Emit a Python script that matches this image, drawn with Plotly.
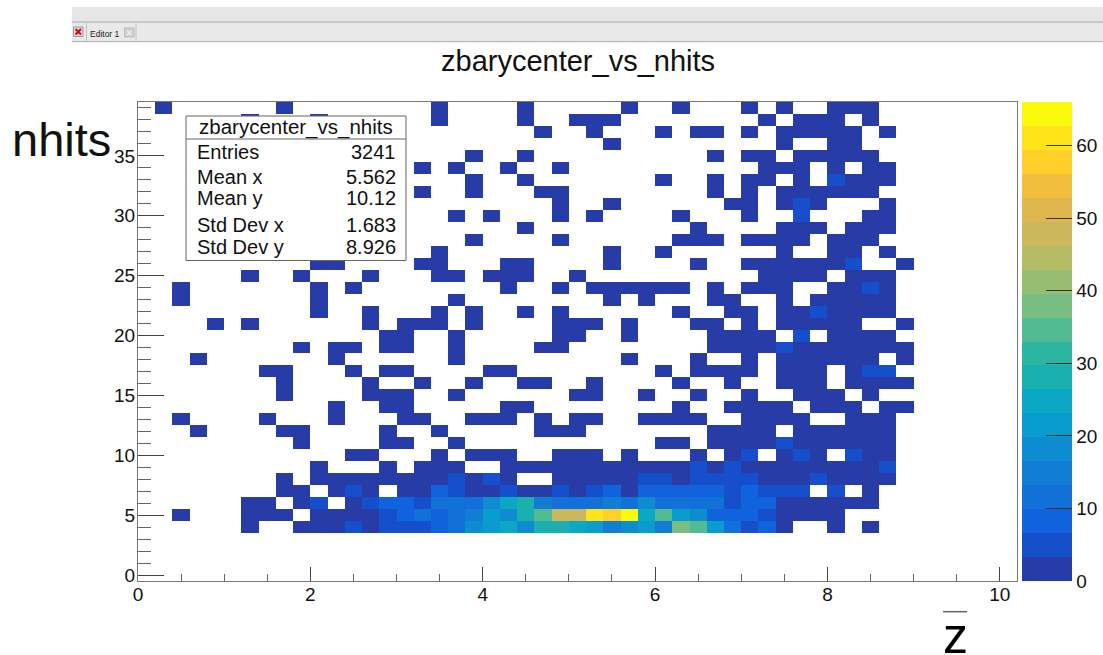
import plotly.graph_objects as go

W, H = 1103, 655
L, R, T, B = 138, 1017, 102, 581

# ---- data: occupied bins (low counts) per nhits row, bin index along x
BIN_WIDTH = 0.2
N_X_BINS = 51
N_Y_BINS = 40
LOW = 2
MID = 5

row_39 = [1, 8, 17, 22, 28, 31, 35, 37, 40, 41, 42]
row_38 = [6, 10, 17, 22, 25, 26, 27, 36, 38, 39, 40, 42]
row_37 = [23, 26, 30, 32, 33, 35, 37, 38, 39, 40, 41, 43]
row_36 = [27, 37, 40, 41]
row_35 = [19, 22, 33, 35, 36, 38, 39, 40, 41, 42]
row_34 = [16, 18, 21, 24, 36, 37, 38, 40, 42, 43]
row_33 = [19, 22, 30, 33, 35, 36, 38, 41, 42, 43]
row_32 = [16, 19, 23, 24, 33, 35, 37, 38, 39, 40, 41, 42]
row_31 = [24, 27, 34, 35, 37, 39, 43]
row_30 = [18, 20, 24, 26, 31, 35, 42, 43]
row_29 = [22, 32, 37, 38, 39, 41, 42, 43]
row_28 = [19, 24, 31, 32, 33, 35, 36, 37, 38, 40, 41, 42]
row_27 = [17, 27, 30, 37, 40, 41, 43]
row_26 = [10, 11, 16, 17, 21, 22, 27, 32, 35, 36, 37, 38, 39, 40, 44]
row_25 = [6, 9, 13, 17, 18, 20, 21, 22, 25, 36, 37, 38, 39, 41, 42, 43]
row_24 = [2, 10, 12, 21, 24, 26, 27, 28, 29, 30, 31, 33, 35, 36, 37, 40, 41, 43]
row_23 = [2, 10, 18, 27, 29, 33, 34, 37, 39, 40, 41, 42, 43]
row_22 = [10, 13, 17, 19, 22, 24, 31, 34, 35, 37, 38, 40, 41, 42, 43]
row_21 = [4, 6, 13, 15, 16, 17, 19, 24, 25, 26, 28, 32, 33, 35, 37, 38, 39, 40, 41, 44]
row_20 = [14, 15, 18, 24, 25, 28, 33, 34, 35, 36, 40, 41, 42, 43]
row_19 = [9, 11, 12, 14, 15, 18, 23, 24, 33, 34, 35, 36, 38, 39, 40, 41, 42, 43, 44]
row_18 = [3, 11, 18, 28, 32, 35, 37, 38, 39, 40, 41, 42, 44]
row_17 = [7, 8, 12, 14, 15, 20, 21, 30, 32, 33, 34, 35, 37, 38, 39, 41]
row_16 = [8, 13, 16, 19, 22, 23, 26, 31, 34, 37, 38, 39, 41, 42, 43, 44]
row_15 = [8, 13, 14, 15, 18, 25, 26, 29, 32, 35, 38, 39, 40, 42]
row_14 = [11, 14, 15, 21, 22, 31, 34, 35, 36, 37, 39, 40, 41, 43, 44]
row_13 = [2, 7, 11, 15, 16, 19, 20, 21, 23, 25, 26, 29, 30, 31, 32, 35, 36, 37, 38, 41, 42, 43]
row_12 = [3, 8, 9, 14, 17, 23, 24, 25, 33, 34, 35, 36, 38, 39, 40, 41, 42, 43]
row_11 = [9, 14, 15, 18, 30, 31, 33, 34, 35, 36, 38, 39, 40, 41, 42, 43]
row_10 = [12, 13, 17, 19, 20, 21, 24, 25, 26, 28, 32, 34, 37, 39, 42, 43]
row_9 = [10, 14, 16, 17, 18, 21, 22, 23, 24, 25, 26, 27, 28, 29, 30, 31, 33, 35, 36, 37, 38, 39, 40, 41, 42]

# cells of the sparse rows that are one colour step higher: (row, bin)
mid_cells = [(33, 40), (31, 38), (30, 38), (26, 41), (24, 42), (22, 39), (20, 38), (19, 37),
             (17, 42), (17, 43), (11, 37), (10, 35), (10, 38), (10, 41), (9, 32), (9, 34), (9, 43)]

# dense rows, full list of bin contents starting at bin 0
row_8 = [0, 0, 0, 0, 0, 0, 0, 0, 2, 0, 2, 2, 2, 2, 2, 2, 2, 2, 5, 2, 5, 2, 0, 0, 2, 2, 2, 2, 2,
         5, 5, 2, 5, 5, 5, 5, 2, 2, 2, 5, 2, 2, 2, 2, 0]
row_7 = [0, 0, 0, 0, 0, 0, 0, 0, 2, 2, 0, 2, 5, 2, 0, 2, 2, 8, 5, 2, 2, 5, 2, 2, 5, 2, 5, 8, 2,
         8, 8, 8, 8, 8, 5, 8, 5, 5, 5, 0, 5, 0, 2, 0, 0]
row_6 = [0, 0, 0, 0, 0, 0, 2, 2, 0, 2, 5, 0, 2, 5, 8, 8, 5, 12, 12, 12, 18, 25, 28, 15, 12, 12,
         12, 15, 12, 18, 12, 12, 12, 12, 5, 8, 8, 2, 2, 2, 2, 2, 2, 0, 0]
row_5 = [0, 0, 2, 0, 0, 0, 2, 2, 2, 0, 2, 2, 2, 2, 5, 8, 12, 8, 12, 15, 22, 18, 28, 35, 48, 48,
         61, 58, 65, 25, 35, 22, 18, 8, 8, 8, 5, 2, 2, 2, 2, 0, 0, 0, 0]
row_4 = [0, 0, 0, 0, 0, 0, 2, 0, 0, 2, 2, 2, 5, 2, 5, 5, 5, 8, 12, 18, 22, 25, 18, 28, 28, 25,
         22, 15, 18, 22, 15, 38, 35, 22, 12, 5, 8, 2, 0, 0, 2, 0, 2, 0, 0]

sparse_rows = {39: row_39, 38: row_38, 37: row_37, 36: row_36, 35: row_35, 34: row_34, 33: row_33,
               32: row_32, 31: row_31, 30: row_30, 29: row_29, 28: row_28, 27: row_27, 26: row_26,
               25: row_25, 24: row_24, 23: row_23, 22: row_22, 21: row_21, 20: row_20, 19: row_19,
               18: row_18, 17: row_17, 16: row_16, 15: row_15, 14: row_14, 13: row_13, 12: row_12,
               11: row_11, 10: row_10, 9: row_9}
dense_rows = {8: row_8, 7: row_7, 6: row_6, 5: row_5, 4: row_4}

# colour palette, 20 steps from the colour bar, bottom to top
palette = ["#283ca8", "#164fcb", "#1063dd", "#1270d9", "#127dd5", "#0d8dcf", "#089dce", "#0aa8c4",
           "#1bb0b0", "#2cb5a0", "#52bb92", "#78be82", "#96be72", "#b4bc66", "#cbb85c", "#deb74e",
           "#f2bf3c", "#ffcf2a", "#fee418", "#fcfa0c"]
Z_MAX = 66

stats_title = "zbarycenter_vs_nhits"
stats_names = ["Entries", "Mean x", "Mean y", "Std Dev x", "Std Dev y"]
stats_values = ["3241", "5.562", "10.12", "1.683", "8.926"]
stats_y_px = [152, 177, 198, 225, 247]

# ---- matrix
z = [[None] * N_X_BINS for _ in range(N_Y_BINS)]
for r, bins in sparse_rows.items():
    for b in bins:
        z[r][b] = LOW
for r, b in mid_cells:
    z[r][b] = MID
for r, vals in dense_rows.items():
    for b, v in enumerate(vals):
        if v:
            z[r][b] = v

colorscale = []
for i, c in enumerate(palette):
    colorscale += [[i / len(palette), c], [(i + 1) / len(palette), c]]


def px(x):
    return (x - L) / (R - L)


def py(y):
    return (B - y) / (B - T)


FONT = "Liberation Sans"
fig = go.Figure(go.Heatmap(
    z=z, x0=BIN_WIDTH / 2, dx=BIN_WIDTH, y0=0, dy=1,
    zmin=0, zmax=Z_MAX, colorscale=colorscale, hoverongaps=False,
    colorbar=dict(
        x=px(1022), xanchor="left", y=0.5, yanchor="middle", len=1.0, lenmode="fraction",
        thickness=50, thicknessmode="pixels", xpad=0, ypad=0, outlinewidth=0,
        ticks="inside", ticklen=26, tickwidth=1, tickcolor="#333333",
        tick0=0, dtick=10, tickfont=dict(family=FONT, size=19, color="#111111"),
    ),
))

shapes = []
annotations = []


def rect(x0, y0, x1, y1, fill, line=None, width=1):
    shapes.append(dict(type="rect", xref="paper", yref="paper", x0=px(x0), x1=px(x1), y0=py(y0), y1=py(y1),
                       fillcolor=fill, line=dict(color=line or fill, width=width if line else 0), layer="above"))


def seg(x0, y0, x1, y1, color, width=1):
    shapes.append(dict(type="line", xref="paper", yref="paper", x0=px(x0), x1=px(x1), y0=py(y0), y1=py(y1),
                       line=dict(color=color, width=width), layer="above"))


def text(x, y, s, size, anchor="center", color="#111111", yanchor="middle"):
    annotations.append(dict(xref="paper", yref="paper", x=px(x), y=py(y), text=s, showarrow=False,
                            xanchor=anchor, yanchor=yanchor, align=anchor,
                            font=dict(family=FONT, size=size, color=color), borderpad=0, borderwidth=0))


# window chrome
rect(72, 7, W, 21.5, "#e7e7e7")
seg(72, 22, W, 22, "#b8b8b8", 1.5)
rect(72, 23, W, 40.5, "#e9e9e9")
seg(72, 41.5, W, 41.5, "#bcbcbc", 1.5)
seg(86.5, 23, 86.5, 41, "#c4c4c4", 1)
seg(136, 23, 136, 41, "#c4c4c4", 1)
rect(73.5, 27, 83, 36.5, "#dddddd", "#999999", 1)
seg(75.5, 29, 81, 34.5, "#e00000", 2)
seg(81, 29, 75.5, 34.5, "#e00000", 2)
rect(124.5, 28, 134, 37, "#cfcfcf", "#bbbbbb", 1)
seg(127, 30.5, 131.5, 35, "#eeeeee", 1.5)
seg(131.5, 30.5, 127, 35, "#eeeeee", 1.5)
text(105, 33.5, "Editor 1", 8.5, color="#222222")

# statistics box
rect(186, 116, 406, 260.5, "white", "#666666", 1)
seg(186, 139, 406, 139, "#666666", 1)
text(296, 127, stats_title, 20.5)
for name, value, yp in zip(stats_names, stats_values, stats_y_px):
    text(197, yp, name, 20, "left")
    text(395.5, yp, value, 20, "right")

# titles
text(578, 61, "zbarycenter_vs_nhits", 29)
text(61, 139, "nhits", 47)
text(955, 636, "z", 50, color="#000000")
seg(943, 611.7, 967, 611.7, "#666666", 1.5)

axis_common = dict(showgrid=False, zeroline=False, ticks="inside", tickcolor="#444444", tickwidth=1,
                   showline=True, linecolor="#777777", linewidth=1, mirror=True,
                   tickfont=dict(family=FONT, size=19, color="#111111"))
fig.update_layout(
    width=W, height=H, margin=dict(l=L, r=W - R, t=T, b=H - B, autoexpand=False),
    paper_bgcolor="white", plot_bgcolor="white",
    xaxis=dict(range=[0, 10.2], tick0=0, dtick=2, ticklen=14, ticklabelstandoff=-4,
               minor=dict(dtick=0.5, tick0=0, ticks="inside", ticklen=7, tickcolor="#666666", tickwidth=1),
               **axis_common),
    yaxis=dict(range=[-0.5, 39.5], tick0=0, dtick=5, ticklen=26, ticklabelstandoff=-2,
               minor=dict(dtick=1, tick0=0, ticks="inside", ticklen=13, tickcolor="#666666", tickwidth=1),
               **axis_common),
    shapes=shapes, annotations=annotations, showlegend=False,
)

fig.write_html("out.html", config={"displayModeBar": False},
               post_script="document.body.style.margin='0';document.body.style.overflow='hidden';")
